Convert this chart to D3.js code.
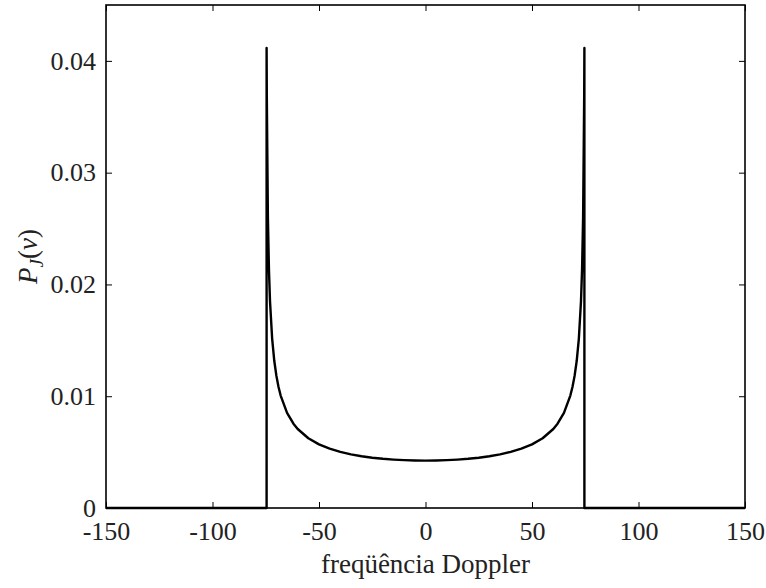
<!DOCTYPE html>
<meta charset="utf-8">
<script src="https://d3js.org/d3.v7.min.js"></script>
<style>
  body { margin: 0; background: #fff; }
  text { font-family: "Liberation Serif", "DejaVu Serif", serif; fill: #222; }
</style>
<div id="chart"></div>
<script>

// Doppler frequency (x) and spectrum value (y)
const freq = [-150, -74.6, -74.6, -74.5, -74, -73.5, -73, -72, -71, -70, -69, -68, -65, -62, -60, -55, -50, -45, -40, -35, -30, -25, -20, -15, -10, -5, 0,
              5, 10, 15, 20, 25, 30, 35, 40, 45, 50, 55, 60, 62, 65, 68, 69, 70, 71, 72, 73, 73.5, 74, 74.5, 74.6, 74.6, 150];
const power = [0, 0, 0.04115, 0.03682, 0.02608, 0.02133, 0.01850, 0.01516, 0.01317, 0.01182, 0.01083, 0.01006, 0.00851, 0.00754, 0.00707, 0.00624, 0.00569, 0.00531, 0.00502, 0.00480, 0.00463, 0.00450, 0.00440, 0.00433, 0.00428, 0.00425, 0.00424,
               0.00425, 0.00428, 0.00433, 0.00440, 0.00450, 0.00463, 0.00480, 0.00502, 0.00531, 0.00569, 0.00624, 0.00707, 0.00754, 0.00851, 0.01006, 0.01083, 0.01182, 0.01317, 0.01516, 0.01850, 0.02133, 0.02608, 0.03682, 0.04115, 0, 0];

const xTicks = [-150, -100, -50, 0, 50, 100, 150];
const yTicks = [0, 0.01, 0.02, 0.03, 0.04];
const yTickLabels = ["0", "0.01", "0.02", "0.03", "0.04"];

const W = 766, H = 588;
const margin = {top: 5, right: 21, bottom: 80, left: 106};
const width = W - margin.left - margin.right,
      height = H - margin.top - margin.bottom;

const svg = d3.select("#chart")
  .append("svg")
    .attr("width", W)
    .attr("height", H);

const g = svg.append("g")
    .attr("transform", `translate(${margin.left},${margin.top})`);

const x = d3.scaleLinear().domain([-150, 150]).range([0, width]);
const y = d3.scaleLinear().domain([0, 0.045]).range([height, 0]);

// inward ticks on all four sides
const tk = 6;
g.append("g")
  .attr("transform", `translate(0,${height})`)
  .call(d3.axisBottom(x).tickValues(xTicks).tickSizeInner(-tk).tickSizeOuter(0).tickPadding(14).tickFormat(d => d))
  .call(a => a.select(".domain").remove());
g.append("g")
  .call(d3.axisTop(x).tickValues(xTicks).tickSizeInner(-tk).tickSizeOuter(0).tickFormat(""))
  .call(a => a.select(".domain").remove());
g.append("g")
  .call(d3.axisLeft(y).tickValues(yTicks).tickSizeInner(-tk).tickSizeOuter(0).tickPadding(10).tickFormat((d, i) => yTickLabels[i]))
  .call(a => a.select(".domain").remove());
g.append("g")
  .attr("transform", `translate(${width},0)`)
  .call(d3.axisRight(y).tickValues(yTicks).tickSizeInner(-tk).tickSizeOuter(0).tickFormat(""))
  .call(a => a.select(".domain").remove());

g.selectAll(".tick line").attr("stroke", "#000").attr("stroke-width", 1);
g.selectAll(".tick text").attr("font-size", 26).attr("fill", "#222")
  .attr("font-family", "Liberation Serif, DejaVu Serif, serif");

// box
g.append("rect")
  .attr("x", 0).attr("y", 0)
  .attr("width", width).attr("height", height)
  .attr("fill", "none")
  .attr("stroke", "#000")
  .attr("stroke-width", 1.6);

// spectrum
const line = d3.line()
  .x((d, i) => x(freq[i]))
  .y((d, i) => y(power[i]));

g.append("path")
  .datum(freq)
  .attr("d", line)
  .attr("fill", "none")
  .attr("stroke", "#000")
  .attr("stroke-width", 2.4)
  .attr("stroke-linejoin", "round");

// axis labels
svg.append("text")
  .attr("x", margin.left + width / 2)
  .attr("y", 573)
  .attr("text-anchor", "middle")
  .attr("font-size", 27)
  .text("freqüência Doppler");

const yl = svg.append("text")
  .attr("transform", `translate(37,${margin.top + height / 2}) rotate(-90)`)
  .attr("text-anchor", "middle")
  .attr("font-size", 27);
yl.append("tspan").attr("font-style", "italic").text("P");
yl.append("tspan").attr("font-style", "italic").attr("font-size", 19).attr("dy", 6).text("J");
yl.append("tspan").attr("dy", -6).text("(");
yl.append("tspan").attr("font-style", "italic").text("ν");
yl.append("tspan").text(")");

</script>
